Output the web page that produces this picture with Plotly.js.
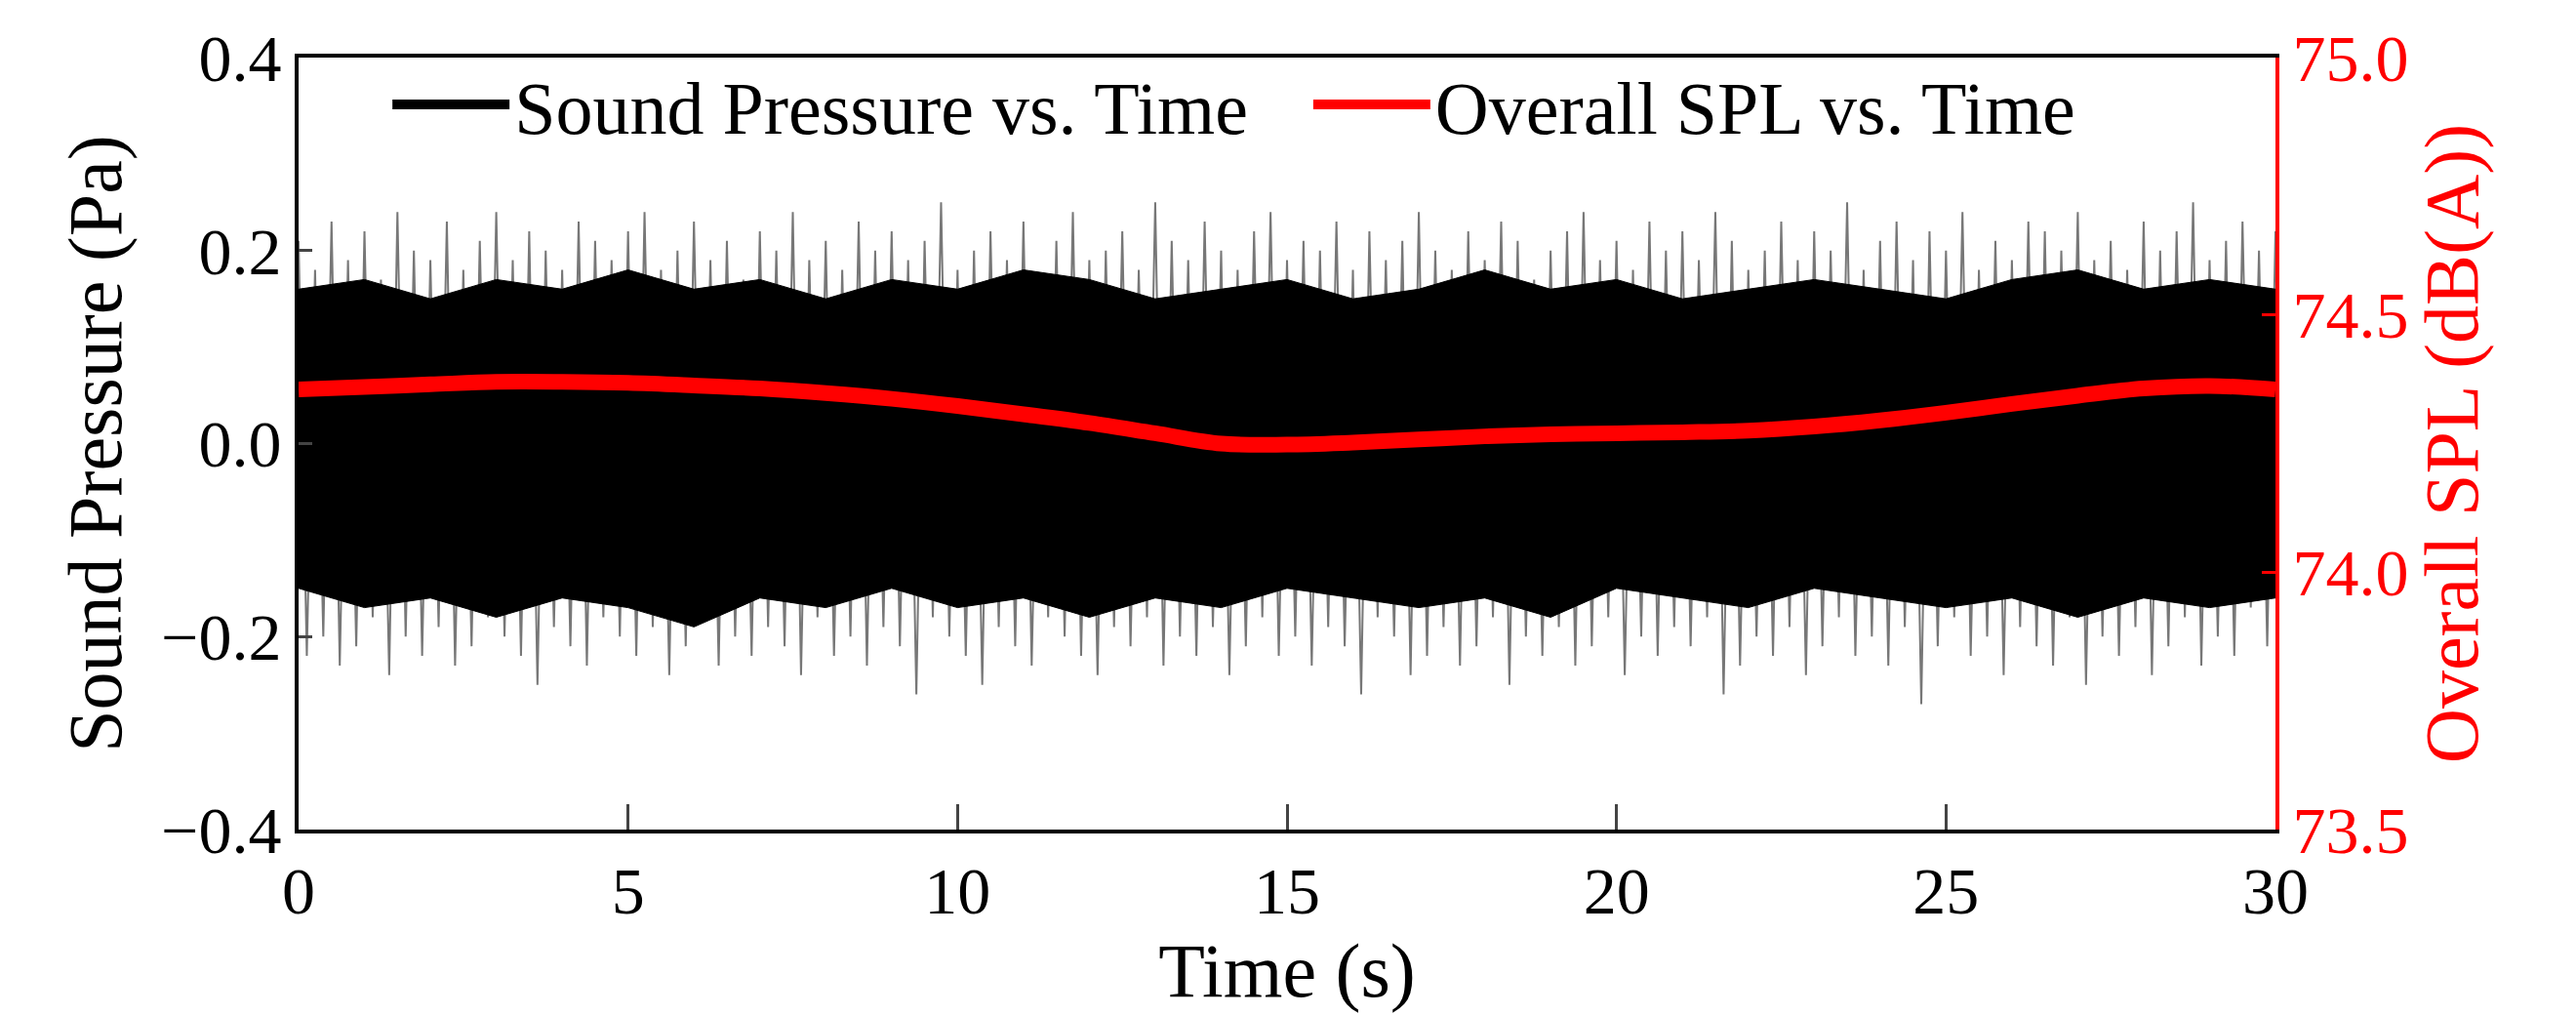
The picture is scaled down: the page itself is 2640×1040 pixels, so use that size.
<!DOCTYPE html>
<html><head><meta charset="utf-8">
<script src="https://cdn.plot.ly/plotly-3.0.1.min.js"></script>
<style>body{margin:0;background:#fff}#chart{width:2640px;height:1040px}</style>
</head><body><div id="chart"></div>
<script>
// peak envelopes of the pressure signal, read every 0.25 s
var peakUp = [0.21,0.18,0.23,0.19,0.22,0.17,0.24,0.20,0.19,0.23,0.18,0.21,0.24,0.19,0.22,0.20,0.18,0.23,0.21,0.19,
  0.22,0.24,0.18,0.20,0.23,0.19,0.21,0.17,0.22,0.20,0.24,0.19,0.21,0.18,0.23,0.20,0.22,0.19,0.21,0.25,
  0.18,0.20,0.22,0.19,0.23,0.17,0.21,0.24,0.19,0.20,0.22,0.18,0.25,0.21,0.19,0.23,0.20,0.18,0.22,0.24,
  0.19,0.21,0.20,0.23,0.18,0.22,0.19,0.21,0.24,0.20,0.18,0.22,0.19,0.23,0.21,0.17,0.20,0.22,0.24,0.19,
  0.21,0.18,0.23,0.20,0.22,0.19,0.24,0.21,0.18,0.20,0.23,0.19,0.22,0.20,0.25,0.18,0.21,0.23,0.19,0.22,
  0.20,0.24,0.18,0.21,0.19,0.23,0.22,0.20,0.24,0.19,0.21,0.18,0.23,0.20,0.22,0.25,0.19,0.21,0.23,0.20,0.22];
var peakDown = [-0.19,-0.21,-0.17,-0.22,-0.20,-0.23,-0.18,-0.21,-0.24,-0.19,-0.22,-0.20,-0.25,-0.18,-0.23,-0.21,-0.19,-0.24,-0.20,-0.22,
  -0.18,-0.21,-0.27,-0.19,-0.23,-0.20,-0.22,-0.18,-0.21,-0.24,-0.19,-0.22,-0.20,-0.23,-0.26,-0.18,-0.21,-0.19,-0.22,-0.20,
  -0.24,-0.18,-0.21,-0.23,-0.19,-0.22,-0.20,-0.25,-0.18,-0.21,-0.23,-0.19,-0.22,-0.24,-0.20,-0.18,-0.26,-0.21,-0.19,-0.23,
  -0.20,-0.22,-0.18,-0.21,-0.24,-0.19,-0.22,-0.20,-0.23,-0.18,-0.21,-0.19,-0.24,-0.22,-0.20,-0.18,-0.23,-0.21,-0.19,-0.25,
  -0.22,-0.20,-0.18,-0.26,-0.21,-0.19,-0.23,-0.20,-0.22,-0.18,-0.24,-0.21,-0.19,-0.22,-0.20,-0.23,-0.18,-0.21,-0.24,-0.19,
  -0.22,-0.20,-0.18,-0.23,-0.21,-0.19,-0.25,-0.22,-0.20,-0.18,-0.21,-0.23,-0.19,-0.22,-0.20,-0.24,-0.18,-0.21,-0.23,-0.20,-0.22];
// dense core of the signal
var coreTime = [0,1,2,3,4,5,6,7,8,9,10,11,12,13,14,15,16,17,18,19,20,21,22,23,24,25,26,27,28,29,30];
var coreUp = [0.16,0.17,0.15,0.17,0.16,0.18,0.16,0.17,0.15,0.17,0.16,0.18,0.17,0.15,0.16,0.17,0.15,0.16,0.18,0.16,0.17,0.15,0.16,0.17,0.16,0.15,0.17,0.18,0.16,0.17,0.16];
var coreDown = [-0.15,-0.17,-0.16,-0.18,-0.16,-0.17,-0.19,-0.16,-0.17,-0.15,-0.17,-0.16,-0.18,-0.16,-0.17,-0.15,-0.16,-0.17,-0.16,-0.18,-0.15,-0.16,-0.17,-0.15,-0.16,-0.17,-0.16,-0.18,-0.16,-0.17,-0.16];
// overall SPL
var splTime = [0,1,2,3,4,5,6,7,8,9,10,11,12,13,14,15,16,17,18,19,20,21,22,23,24,25,26,27,28,29,30];
var splVal = [74.355,74.36,74.365,74.37,74.37,74.368,74.363,74.357,74.348,74.337,74.323,74.307,74.29,74.27,74.25,74.248,74.252,74.258,74.264,74.268,74.27,74.272,74.275,74.283,74.295,74.31,74.327,74.343,74.357,74.362,74.355];

var zx = [], zy = [];
for (var i = 0; i < peakUp.length; i++) {
  var t = i * 0.25;
  zx.push(t, t + 0.125);
  zy.push(peakUp[i], peakDown[peakDown.length - 1 - i]);
}
var bx = coreTime.concat(coreTime.slice().reverse());
var by = coreUp.concat(coreDown.slice().reverse());

var data = [
  {x: zx, y: zy, type: 'scatter', mode: 'lines', line: {color: '#777', width: 2}, showlegend: false, hoverinfo: 'skip'},
  {x: bx, y: by, type: 'scatter', mode: 'lines', fill: 'toself', fillcolor: '#000', line: {color: '#000', width: 1}, showlegend: false},
  {x: [null], y: [null], type: 'scatter', mode: 'lines', line: {color: '#000', width: 12}, name: 'Sound Pressure vs. Time   '},
  {x: splTime, y: splVal, yaxis: 'y2', type: 'scatter', mode: 'lines', line: {color: '#ff0000', width: 16, shape: 'spline'}, name: 'Overall SPL vs. Time'}
];

var fam = 'Liberation Serif, Times New Roman, serif';
var font = {family: fam, size: 78, color: '#000'};
var tick = {family: fam, size: 68, color: '#000'};
var layout = {
  width: 2640, height: 1040,
  margin: {l: 306, r: 308, t: 59, b: 190},
  paper_bgcolor: '#fff', plot_bgcolor: '#fff',
  font: tick,
  showlegend: true,
  legend: {orientation: 'h', x: 0.045, y: 1.01, xanchor: 'left', yanchor: 'top', bgcolor: 'rgba(255,255,255,0)',
    font: {family: fam, size: 76, color: '#000'}, itemwidth: 120},
  xaxis: {range: [0, 30], tickvals: [0,5,10,15,20,25,30], ticks: 'inside', ticklen: 26, tickwidth: 3,
    showline: true, linecolor: '#000', linewidth: 4, mirror: true, showgrid: false, zeroline: false,
    tickfont: tick, title: {text: 'Time (s)', font: font, standoff: 4}},
  yaxis: {range: [-0.4, 0.4], tickvals: [-0.4,-0.2,0,0.2,0.4], ticktext: ['\u22120.4','\u22120.2','0.0','0.2','0.4'],
    ticks: 'inside', ticklen: 14, tickwidth: 3, showline: true, linecolor: '#000', linewidth: 4,
    showgrid: false, zeroline: false, tickfont: tick, title: {text: 'Sound Pressure (Pa)', font: font, standoff: 16}},
  yaxis2: {range: [73.5, 75.0], tickvals: [73.5,74,74.5,75], ticktext: ['73.5','74.0','74.5','75.0'], overlaying: 'y', side: 'right',
    ticks: 'inside', ticklen: 14, tickwidth: 3, tickcolor: '#ff0000', showline: true, linecolor: '#ff0000', linewidth: 4,
    showgrid: false, zeroline: false, tickfont: {family: fam, size: 68, color: '#ff0000'},
    title: {text: 'Overall SPL (dB(A))', font: {family: fam, size: 78, color: '#ff0000'}, standoff: 16}}
};

Plotly.newPlot('chart', data, layout, {displayModeBar: false});
</script></body></html>
